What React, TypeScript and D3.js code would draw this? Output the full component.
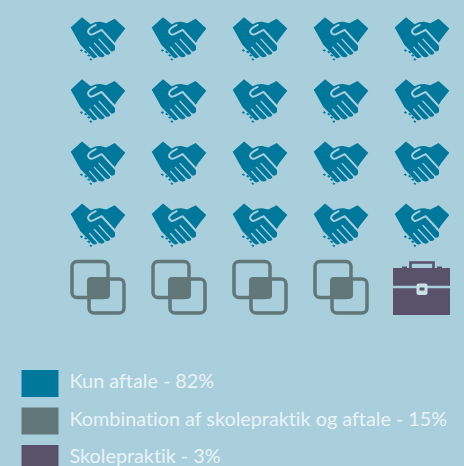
import React from "react";
import * as d3 from "d3";

const categories = ["Kun aftale", "Kombination af skolepraktik og aftale", "Skolepraktik"];
const percents = [82, 15, 3];
const iconCounts = [20, 4, 1];
const colors = ["#00789c", "#62777a", "#5a516b"];
const columns = [0, 1, 2, 3, 4];
const rows = [0, 1, 2, 3, 4];
const W = 464, H = 466, BG = "#a9cfdd";

const x = d3.scalePoint<number>().domain(columns).range([98, 422]);
const y = d3.scalePoint<number>().domain(rows).range([38.5, 287]);
const legendY = d3.scalePoint<number>().domain([0, 1, 2]).range([370, 445]);

const cells = iconCounts.flatMap((n, cat) => d3.range(n).map(() => cat)).map((cat, i) => ({
  cat,
  col: i % columns.length,
  row: Math.floor(i / columns.length),
}));

function Handshake({ c }: { c: string }) {
  return (
    <g transform="scale(0.3333) translate(-115,-88)">
      <path fill={c} d="M33,55 L67,24 L93,45 Q108,37 122,38 L140,42 L165,29 L197,58 L172,90 L166,100 L166,122 Q160,130 150,125 L152,132 Q146,140 136,134 L134,141 Q126,148 117,141 L108,146 Q100,150 90,136 L62,107 Z" />
      <path fill="none" stroke={BG} strokeWidth={6} strokeLinecap="round" strokeLinejoin="round" d="M108,47 Q84,58 85,68 Q90,80 102,74 L126,62 L168,108" />
      <path fill="none" stroke={BG} strokeWidth={4} strokeLinecap="round" d="M118,90 L152,127 M104,102 L136,136 M90,114 L116,143" />
      <path fill={c} d="M60,123 l5,-3 l5,4 l-4,4 Z M73,128 l5,-3 l5,4 l-4,4 Z M82,138 l5,-3 l5,4 l-4,4 Z M89,150 l4,-3 l5,4 l-4,4 Z" />
    </g>
  );
}

function Squares({ c }: { c: string }) {
  return (
    <g>
      <rect x={-26} y={-25.5} width={36} height={36} rx={5} fill="none" stroke={c} strokeWidth={3.5} />
      <rect x={-9} y={-8} width={35} height={34} rx={5} fill="none" stroke={c} strokeWidth={3.5} />
      <rect x={-11} y={-10} width={23} height={22} rx={4} fill={c} />
    </g>
  );
}

function Briefcase({ c }: { c: string }) {
  return (
    <g>
      <path fill="none" stroke={c} strokeWidth={2.6} d="M-11.5,-19 V-24.5 H11.5 V-19" />
      <path fill={c} d="M-29,-19 H-20 V-20.5 H-15 V-19 H15 V-20.5 H20 V-19 H28 V-1.2 H-29 Z" />
      <path fill={c} d="M-29,1.2 H28 V28 H-29 Z" />
      <rect x={-5.5} y={-3.5} width={11} height={11.5} rx={2} fill="#c9dfe6" />
      <rect x={-2.5} y={0.5} width={5} height={3} fill={c} />
    </g>
  );
}

export default function App() {
  return (
    <svg width={W} height={H} viewBox={`0 0 ${W} ${H}`} style={{ position: "fixed", left: 0, top: 0, background: BG }}>
      {cells.map((d, i) => (
        <g key={i} transform={`translate(${x(d.col)},${y(d.row)})`}>
          {d.cat === 0 && <Handshake c={colors[0]} />}
          {d.cat === 1 && <Squares c={colors[1]} />}
          {d.cat === 2 && <Briefcase c={colors[2]} />}
        </g>
      ))}
      {categories.map((name, i) => (
        <g key={name}>
          <rect x={21.5} y={legendY(i)} width={37} height={27} fill={colors[i]} />
          <text x={69.5} y={legendY(i)! + 18} fontFamily="Lato" fontSize={19.8} fill="#e9f3f7" style={{ fontVariantLigatures: "none" }}>
            {`${name} - ${percents[i]}%`}
          </text>
        </g>
      ))}
    </svg>
  );
}
